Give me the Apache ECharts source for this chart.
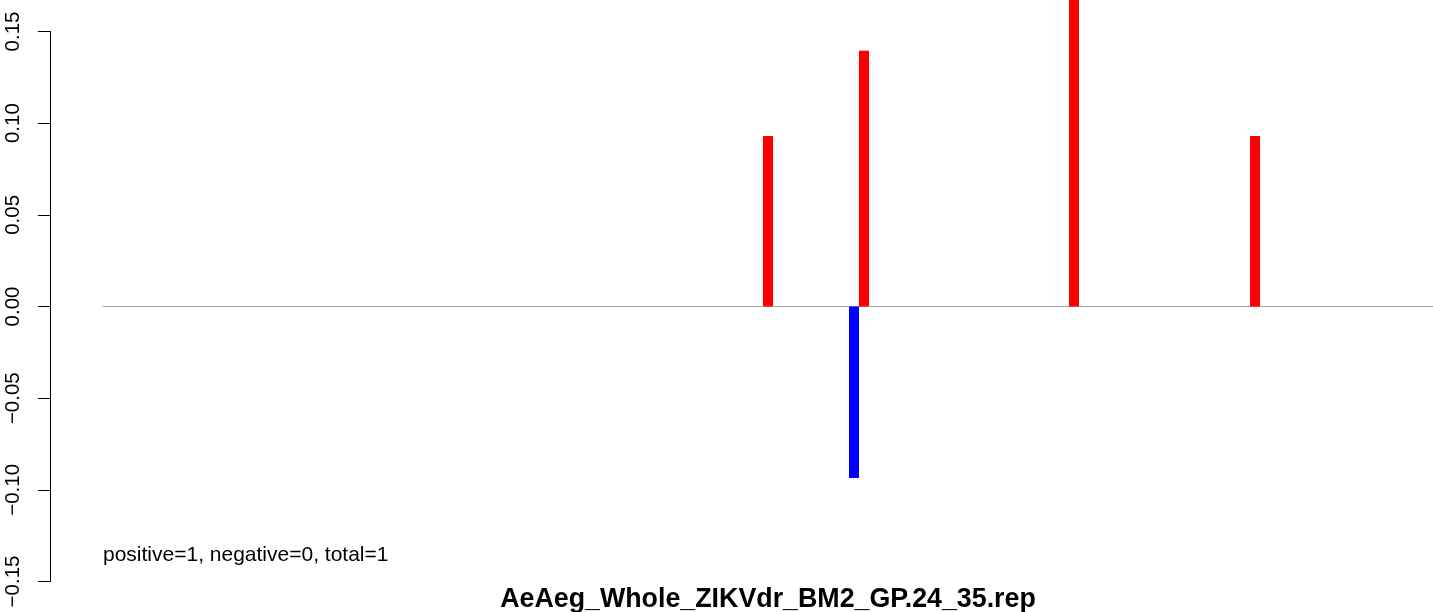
<!DOCTYPE html>
<html>
<head>
<meta charset="utf-8">
<script src="https://cdn.jsdelivr.net/npm/echarts@6/dist/echarts.min.js"></script>
<style>html,body{margin:0;padding:0;background:#fff}#c{width:1433px;height:612px}</style>
</head>
<body>
<div id="c"></div>
<script>
// Data (x = position along the axis, y = score)
var positions = [665, 751, 761, 971, 1152];
var values    = [0.093, -0.0935, 0.1395, 0.1867, 0.093];
var yTicks    = [-0.15, -0.10, -0.05, 0.00, 0.05, 0.10, 0.15];
var xRange    = [0, 1330];
var titleText = 'AeAeg_Whole_ZIKVdr_BM2_GP.24_35.rep';
var noteText  = 'positive=1, negative=0, total=1';

var barData = positions.map(function (p, i) { return [p, values[i]]; });

var chart = echarts.init(document.getElementById('c'), null, {renderer: 'canvas'});
chart.setOption({
  animation: false,
  backgroundColor: '#ffffff',
  grid: {left: 103, right: 0, top: 31.5, height: 550, containLabel: false},
  xAxis: {
    type: 'value', min: xRange[0], max: xRange[1],
    axisLine: {show: true, onZero: true, lineStyle: {color: '#a0a0a0', width: 1}},
    axisTick: {show: false}, axisLabel: {show: false}, splitLine: {show: false}
  },
  yAxis: {
    type: 'value', min: yTicks[0], max: yTicks[yTicks.length - 1], interval: 0.05,
    offset: 53,
    axisLine: {show: true, onZero: false, lineStyle: {color: '#000', width: 1}},
    axisTick: {show: true, length: 12, lineStyle: {color: '#000', width: 1}},
    axisLabel: {
      rotate: 90, margin: 26, color: '#000',
      fontFamily: 'Liberation Sans, Arial, sans-serif', fontSize: 20.5,
      formatter: function (v) {
        var s = Math.abs(v).toFixed(2);
        return (v < -1e-9 ? '\u2212' : '') + s;
      }
    },
    splitLine: {show: false}
  },
  series: [{
    type: 'bar', data: barData, barWidth: 10, clip: false,
    itemStyle: {color: function (p) { return p.value[1] >= 0 ? '#ff0000' : '#0000ff'; }}
  }],
  graphic: [
    {type: 'text', left: 103, top: 545,
     style: {text: noteText, fill: '#000', font: '21px "Liberation Sans", Arial, sans-serif'}},
    {type: 'text', x: 768, y: 586,
     style: {text: titleText, fill: '#000', align: 'center', verticalAlign: 'top',
             font: 'bold 26.8px "Liberation Sans", Arial, sans-serif'}}
  ]
});
</script>
</body>
</html>
